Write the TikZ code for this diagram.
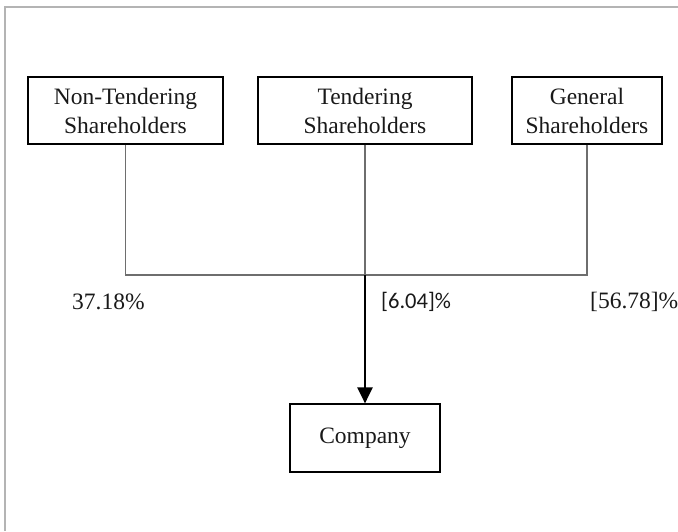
\documentclass[tikz,border=0pt]{standalone}
\usepackage{fontspec}
\setmainfont{Liberation Serif}
\newfontfamily\labelsans{Carlito}
\usetikzlibrary{arrows.meta}
\definecolor{framegray}{RGB}{180,180,180}
\definecolor{linkgray}{RGB}{110,110,110}
\definecolor{inkgray}{RGB}{25,25,25}
\tikzset{
  holder/.style={draw=black, line width=1.2pt, rectangle, align=center,
    inner sep=0pt, text=inkgray,
    font=\fontsize{23.5}{29}\selectfont},
  pct/.style={anchor=west, inner sep=0pt, text=inkgray,
    font=\fontsize{23.5}{27}\selectfont},
  pctsans/.style={anchor=west, inner sep=0pt, text=inkgray,
    font=\labelsans\fontsize{22.5}{26}\selectfont},
  link/.style={draw=linkgray, line width=1.1pt},
  flow/.style={draw=black, line width=2.4pt,
    -{Triangle[width=15pt,length=16pt]}},
}
\begin{document}
\begin{tikzpicture}[x=1pt, y=-1pt]
  \useasboundingbox (0,0) rectangle (678,531);
  % page frame (top and left edges)
  \draw[framegray, line width=2pt] (5,531) -- (5,7) -- (678,7);

  % shareholder boxes
  \node[holder, minimum width=195pt, minimum height=67pt] (nts) at (125.5,110.5)
    {Non-Tendering\\Shareholders};
  \node[holder, minimum width=214pt, minimum height=67pt] (ts) at (365,110.5)
    {Tendering\\Shareholders};
  \node[holder, minimum width=150pt, minimum height=67pt] (gs) at (587,110.5)
    {General\\Shareholders};

  % company box
  \node[holder, minimum width=150pt, minimum height=68pt] (co) at (365,438)
    {Company};

  % junction on the horizontal bus
  \coordinate (j) at (365,275);

  \draw[link] (nts.south) |- (j);
  \draw[link] (gs.south) |- (j);
  \draw[link] (ts.south) -- (j);
  \draw[flow] (j) -- (co.north);

  % ownership percentages
  \node[pct] (p1) at (72,302) {37.18\%};
  \node[pctsans] (p2) at (381,302) {[6.04]\%};
  \node[pct] (p3) at (590,302) {[56.78]\%};
\end{tikzpicture}
\end{document}
